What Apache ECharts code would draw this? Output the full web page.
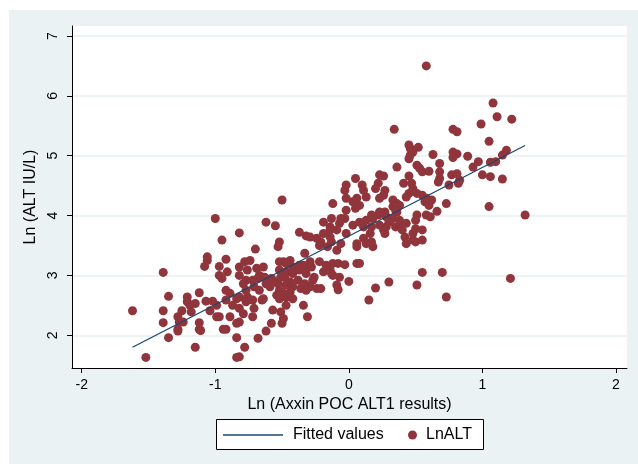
<!DOCTYPE html>
<html>
<head>
<meta charset="utf-8">
<script src="https://cdn.jsdelivr.net/npm/echarts@6/dist/echarts.min.js"></script>
<style>
html, body { margin: 0; padding: 0; background: #fff; }
#wrap { position: relative; width: 638px; height: 464px; background: #fff; }
#chart { position: absolute; left: 9px; top: 10px; width: 629px; height: 454px; }
</style>
</head>
<body>
<div id="wrap"><div id="chart"></div></div>
<script>
// values: x = Ln(Axxin POC ALT1), y = Ln(ALT IU/L)
var lnPoc = [
  -1.62,-1.52,-1.39,-1.39,-1.39,-1.35,-1.35,-1.21,-1.21,-1.12,-1.15,-1.25,-1.28,-1.27,-1.28,-1.24,
  -1.12,-1.12,-1.15,-1.19,-1.18,-1.06,-1.06,-1.08,-0.97,-0.92,-0.95,-0.97,-0.95,-0.91,-0.92,-0.89,
  -0.92,-1.07,-1.02,-0.99,-1.04,-0.99,-0.97,-0.87,-0.84,-0.89,-0.84,-0.94,-0.92,-0.84,-0.84,-1.28,
  -1.11,-0.78,-0.68,-0.62,-0.50,-0.62,-0.55,-0.82,-0.52,-0.53,-0.70,-0.37,-0.32,-0.33,-0.78,-0.74,
  -0.82,-0.76,-0.69,-0.67,-0.64,-0.63,-0.72,-0.79,-0.71,-0.82,-0.76,-0.72,-0.77,-0.65,-0.82,-0.79,
  -0.72,-0.82,-0.57,-0.51,-0.58,-0.50,-0.82,-0.34,-0.31,-0.49,-0.44,-0.52,-0.48,-0.42,-0.37,-0.32,
  -0.29,-0.26,-0.21,-0.24,-0.29,-0.36,-0.42,-0.47,-0.52,-0.47,-0.52,-0.42,-0.53,-0.59,-0.57,-0.22,
  -0.17,-0.12,-0.19,-0.14,-0.08,0.06,0.00,-0.09,-0.08,0.15,-0.29,-0.24,-0.19,-0.19,-0.14,-0.14,
  -0.09,-0.09,-0.07,-0.03,-0.02,0.03,0.08,0.11,0.06,0.11,-0.12,-0.02,0.03,0.08,0.05,-0.02,
  -0.03,0.10,0.11,0.06,0.05,-1.00,-0.13,-0.06,0.13,-0.14,1.05,1.18,1.15,1.10,1.06,0.97,
  0.93,1.00,1.06,1.15,1.05,1.32,1.21,0.70,0.55,0.51,0.30,0.20,0.45,0.46,0.52,0.46,
  0.45,0.63,0.78,0.81,0.78,0.89,0.36,0.51,0.53,0.55,0.60,0.68,0.68,0.68,0.67,0.77,
  0.81,0.83,0.82,0.75,0.45,0.41,0.47,0.48,0.45,0.43,0.23,0.22,0.20,0.27,0.26,0.23,
  0.13,0.33,0.36,0.38,0.35,0.51,0.55,0.58,0.62,0.57,0.60,0.73,0.66,0.58,0.51,0.50,
  0.61,0.23,0.27,0.22,0.28,0.33,0.18,0.17,0.28,0.35,0.38,0.40,0.27,0.26,0.50,0.48,
  0.55,0.42,0.43,0.50,0.55,0.16,0.18,0.13,0.08,0.58,1.08,1.11,1.22,0.99,0.34,0.78,
  0.81,0.73,-0.03,-0.12,-0.06,0.06,0.48,-0.21,-0.16,-0.52,-0.47,-0.34,-0.28,-0.47,-0.42,-0.37,
  -0.32,-0.13,-0.07,-0.82,-0.77,-0.68,-0.58,-0.62,-0.51,-0.44,-0.38,-0.33,-0.27,-0.32,-0.44,-0.49,
  -0.54,-0.67,-0.77,-0.64,-0.47,-0.71,-0.49,-0.02,0.33,0.17,-0.13,-0.22,0.17,0.23,0.30,0.48,
  0.26,0.36,0.38,0.43
];
var lnAlt = [
  2.41,1.63,3.05,2.41,2.21,2.65,1.96,2.64,2.56,2.71,2.53,2.41,2.31,2.22,2.10,2.22,
  2.21,2.10,1.80,2.50,2.39,3.31,3.25,3.15,3.15,3.27,3.59,3.00,2.95,3.06,2.75,2.70,
  2.59,2.57,2.57,2.50,2.41,2.31,2.31,2.50,2.61,2.31,2.20,2.10,2.10,1.96,1.63,2.07,
  2.08,1.80,1.95,2.07,4.26,3.89,3.83,3.71,3.56,3.48,3.44,3.72,3.66,3.37,3.23,3.25,
  3.14,3.09,3.12,3.00,3.14,2.97,2.92,2.86,2.81,2.64,2.64,2.59,2.56,2.59,2.45,2.36,
  2.31,2.22,2.42,2.39,2.20,2.20,1.64,2.50,2.31,3.23,3.25,3.09,2.97,3.14,3.17,3.12,
  3.23,2.97,2.78,2.78,2.81,2.78,2.81,2.84,2.75,2.64,2.61,2.61,2.86,2.81,2.92,3.23,
  3.17,3.20,3.06,3.09,3.20,3.20,2.90,2.84,2.76,2.59,3.64,3.62,3.70,3.89,3.81,3.64,
  3.76,3.42,3.87,3.95,3.70,3.84,3.89,3.81,3.53,3.62,4.20,4.09,4.23,4.17,4.62,4.51,
  4.42,4.51,4.42,4.29,4.12,3.95,3.95,3.95,3.92,3.76,5.24,5.09,5.01,4.90,4.89,4.90,
  4.81,4.68,4.65,4.61,4.15,4.01,2.95,3.05,3.05,2.84,2.89,2.79,5.18,5.12,5.14,5.01,
  4.95,5.02,5.06,5.03,4.97,4.99,4.81,4.84,4.79,4.73,4.74,4.87,4.73,4.62,4.56,4.68,
  4.70,4.59,4.54,4.51,4.66,4.54,4.54,4.45,4.37,4.31,4.68,4.54,4.45,4.42,4.34,4.29,
  4.31,4.26,4.20,4.17,4.09,4.37,4.34,4.29,4.26,4.23,4.17,4.20,4.07,4.01,4.01,3.92,
  3.98,4.06,4.06,4.01,3.98,3.95,3.95,3.81,3.81,3.81,3.84,3.76,3.70,3.76,3.78,3.70,
  3.76,3.64,3.53,3.56,3.59,3.70,3.48,3.53,3.20,6.50,5.88,5.65,5.61,5.53,5.44,5.44,
  5.40,2.64,3.18,3.00,3.53,3.48,3.59,3.56,3.48,3.23,3.20,3.17,3.14,3.06,3.03,3.09,
  3.03,3.03,2.97,3.00,2.92,2.95,2.95,2.86,2.97,2.89,2.92,2.86,2.92,2.75,2.72,2.70,
  2.67,2.75,2.75,2.61,2.50,2.45,2.28,4.29,4.15,4.01,3.56,3.50,3.56,3.84,3.89,5.06,
  4.66,4.06,3.92,3.87
];
// linear fit, ends at the data's x range
var fitX = [-1.62, 1.32];
var fitY = [1.80, 5.17];
var xTicks = [-2, -1, 0, 1, 2];
var yTicks = [2, 3, 4, 5, 6, 7];

var points = lnPoc.map(function (x, i) { return [x, lnAlt[i]]; });
var fit = fitX.map(function (x, i) { return [x, fitY[i]]; });

var font = '"Liberation Sans", Arial, Helvetica, sans-serif';
var chart = echarts.init(document.getElementById('chart'));
chart.setOption({
  animation: false,
  backgroundColor: '#eaf2f3',
  textStyle: { fontFamily: font, color: '#000' },
  grid: { left: 63, right: 11, top: 16, bottom: 96, show: true, backgroundColor: '#fff', borderWidth: 0 },
  xAxis: {
    type: 'value', min: -2.073, max: 2.083,
    name: 'Ln (Axxin POC ALT1 results)', nameLocation: 'middle', nameGap: 26,
    nameTextStyle: { fontSize: 16, color: '#000', fontFamily: font },
    axisLine: { onZero: false, lineStyle: { color: '#000', width: 1 } },
    axisTick: { customValues: xTicks, length: 5, lineStyle: { color: '#000' } },
    axisLabel: { customValues: xTicks, margin: 10, fontSize: 14, color: '#000', fontFamily: font },
    splitLine: { show: false }
  },
  yAxis: {
    type: 'value', min: 1.453, max: 7.167,
    name: 'Ln (ALT IU/L)', nameLocation: 'middle', nameGap: 32, nameRotate: 90,
    nameTextStyle: { fontSize: 16, color: '#000', fontFamily: font },
    axisLine: { show: true, onZero: false, lineStyle: { color: '#000', width: 1 } },
    axisTick: { show: true, customValues: yTicks, length: 5, lineStyle: { color: '#000' } },
    axisLabel: { customValues: yTicks, rotate: 90, margin: 12, fontSize: 14, color: '#000', fontFamily: font },
    splitLine: { show: true, lineStyle: { color: '#e6eff1', width: 1.5 } }
  },
  legend: [
    {
      data: [{ name: 'Fitted values', icon: 'rect', itemStyle: { color: '#1a476f' } }],
      left: 214, top: 417, padding: 0, selectedMode: false,
      itemWidth: 60, itemHeight: 1.3,
      textStyle: { fontSize: 16, color: '#000', fontFamily: font, padding: [0, 0, 0, 5] }
    },
    {
      data: ['LnALT'], left: 399, top: 417, padding: 0, selectedMode: false,
      itemWidth: 9, itemHeight: 9,
      textStyle: { fontSize: 16, color: '#000', fontFamily: font, padding: [0, 0, 0, 4] }
    }
  ],
  graphic: [{
    type: 'rect', z: 0,
    shape: { x: 207.5, y: 409.5, width: 267, height: 30 },
    style: { fill: '#fff', stroke: '#000', lineWidth: 1 }
  }],
  series: [
    {
      name: 'LnALT', type: 'scatter', data: points, symbolSize: 9, z: 2,
      itemStyle: { color: '#90353b', opacity: 1 }
    },
    {
      name: 'Fitted values', type: 'line', data: fit, symbol: 'none', z: 3,
      lineStyle: { color: '#1a476f', width: 1.3 }
    }
  ]
});
</script>
</body>
</html>
